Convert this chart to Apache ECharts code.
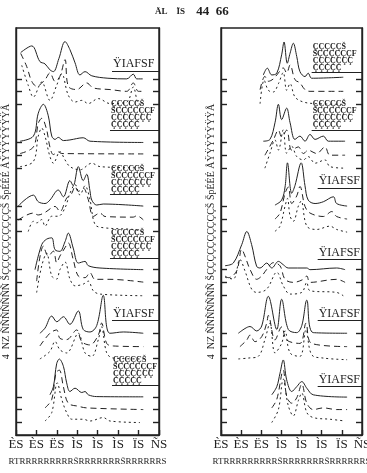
<!DOCTYPE html>
<html>
<head>
<meta charset="utf-8">
<script src="https://cdn.jsdelivr.net/npm/echarts@6/dist/echarts.min.js"></script>
<style>
  html, body { margin: 0; padding: 0; background: #fff; }
  #chart { width: 367px; height: 473px; }
</style>
</head>
<body>
<div id="chart"></div>
<script>
// tick labels along x, and y tick positions (3 per panel group)
var xTickLabels = ["ÈS", "ÈS", "ËS", "ÌS", "ÌS", "ÌS", "ÏS", "ÑS"];
var yTicks = [1, 2, 3, 6, 7, 8, 11, 12, 13, 16, 17, 18, 21, 22, 23, 26, 27, 28];
// baselines of solid / dashed / dotted trace, group 1 at top
var baselines = [[28, 27, 26], [23, 22, 21], [18, 17, 16], [13, 12, 11], [8, 7, 6], [3, 2, 1]];

// left panel traces: [x, height above own baseline]
var leftSolid = [
  [[0.23,2.07],[0.77,2.59],[1.17,1.36],[1.42,1.18],[1.66,0.71],[1.83,0.57],[2.1,1.6],[2.40,2.93],[2.64,2.3],[2.89,1.26],[3.13,0.31],[3.38,0.57],[3.71,0.24],[4.5,0.05],[5.42,0],[5.74,0.37],[5.91,0],[6.20,0]],
  [[0.20,0.1],[0.85,0.5],[1.09,2.3],[1.34,3.0],[1.58,2.1],[1.75,0.5],[1.91,0.24],[2.07,0.4],[2.32,0.15],[2.64,0.2],[3.29,0.37],[3.62,0.1],[6.23,0]],
  [[0.11,0],[0.85,0.86],[1.09,0.34],[1.42,0.2],[1.66,0.47],[2.07,1.26],[2.32,0.73],[2.64,2.0],[2.80,1.6],[3.05,3.1],[3.29,2.0],[3.46,2.5],[3.62,1.2],[3.71,0.47],[3.95,0.08],[4.27,0.16],[6.23,0]],
  [[0.93,0],[1.26,1.97],[1.50,2.4],[1.75,2.5],[1.91,1.57],[2.15,1.44],[2.40,2.2],[2.56,2.87],[2.80,1.7],[3.05,0.52],[3.38,0.65],[3.54,0.31],[4.11,0.13],[6.23,0]],
  [[1.17,0],[1.42,0.4],[1.75,1.35],[2.0,0.9],[2.32,1.3],[2.64,0.7],[3.05,1.75],[3.29,0.3],[3.62,0.1],[3.95,0.6],[4.27,2.98],[4.44,0.5],[4.60,0],[5.25,0.1],[6.23,0]],
  [[1.66,0.16],[1.83,0.8],[1.99,2.6],[2.12,2.97],[2.32,2.4],[2.48,1.1],[2.64,0.42],[2.89,0.68],[3.22,0.34],[3.38,0.42],[3.54,0.16],[3.95,0.02],[6.23,0]]
];
var leftDashed = [
  [[0.23,3.0],[0.52,1.99],[0.77,0.81],[1.01,0.42],[1.42,0.94],[1.66,1.47],[1.91,0.81],[2.15,1.2],[2.40,2.52],[2.56,0.42],[2.97,0.16],[3.46,0.68],[3.78,0.29],[4.60,0.16],[5.42,0.02],[5.74,0.68],[5.99,0.02],[6.20,0.02]],
  [[0.20,0.13],[0.85,0.65],[1.09,2.5],[1.26,2.9],[1.50,2.0],[1.66,0.65],[1.83,0.05],[2.07,0.26],[2.24,0.13],[6.23,0.1]],
  [[0.11,-0.1],[0.85,0.45],[1.09,0.3],[1.42,0.5],[1.91,0.97],[2.15,0.57],[2.48,1.63],[2.73,2.0],[2.89,2.54],[3.05,2.15],[3.29,2.41],[3.54,1.5],[3.78,0.18],[4.11,0.45],[4.36,0.18],[5.74,0.13],[5.91,0.24],[6.23,-0.08]],
  [[1.01,0.1],[1.34,2.85],[1.58,2.07],[1.83,2.46],[1.99,1.55],[2.15,2.07],[2.40,2.73],[2.56,3.1],[2.80,1.8],[3.05,0.5],[3.38,0.37],[3.62,0.76],[3.87,0.24],[4.60,0.24],[6.23,0.02]],
  [[1.17,0],[1.66,1.0],[1.99,1.26],[2.15,0.6],[2.48,0.5],[2.97,1.26],[3.22,0.34],[3.62,0.08],[4.03,0.86],[4.19,1.8],[4.44,0.2],[4.76,0],[6.23,-0.05]],
  [[1.42,0.13],[1.75,0.8],[1.96,2.9],[2.12,3.1],[2.32,1.8],[2.56,0.5],[3.05,0.26],[3.46,0.13],[6.23,0]]
];
var leftDotted = [
  [[0.28,3.07],[0.60,1.49],[0.85,0.57],[1.26,1.75],[1.66,0.31],[1.99,1.49],[2.24,2.41],[2.56,0.71],[2.89,0.18],[3.22,0.31],[3.54,0.06],[4.03,0.45],[4.60,0.06],[5.42,0.18],[5.74,1.36],[5.99,0.06],[6.20,0]],
  [[0.20,0.1],[0.85,0.5],[1.09,2.5],[1.26,3.13],[1.42,2.5],[1.66,0.9],[1.83,0.37],[2.15,1.28],[2.40,0.63],[2.64,0.1],[3.13,-0.15],[3.71,0.37],[4.11,0.1],[6.23,0]],
  [[0.60,0],[0.85,0.8],[1.01,0.68],[1.26,0.94],[1.42,0.42],[1.75,1.2],[2.07,1.2],[2.40,1.86],[2.64,3.0],[2.89,3.7],[3.13,2.87],[3.38,3.6],[3.62,2.5],[3.87,0.55],[4.27,0.3],[5.74,0.16],[6.23,0]],
  [[1.01,0.2],[1.26,2.3],[1.50,3.3],[1.75,1.5],[1.99,1.26],[2.15,2.0],[2.40,2.6],[2.64,1.26],[2.89,0.73],[3.29,0.86],[3.54,1.1],[3.78,0.34],[4.11,0.08],[6.23,-0.05]],
  [[1.17,-0.02],[1.66,0.57],[1.91,1.36],[2.15,0.7],[2.48,0.45],[3.05,2.0],[3.38,0.45],[3.71,0.18],[4.03,1.5],[4.19,2.5],[4.44,0.45],[4.76,0.05],[6.23,-0.02]],
  [[1.42,0.1],[1.75,0.76],[2.02,3.1],[2.24,1.8],[2.48,0.76],[2.73,0.24],[3.29,0.24],[3.62,0.1],[4.27,0.37],[4.60,0.1],[6.07,-0.02]]
];

// right panel traces
var rightSolid = [
  [[2.10,0.3],[2.30,0.84],[2.52,0.31],[2.77,0.45],[3.01,1.89],[3.13,2.9],[3.29,1.23],[3.43,2.02],[3.59,2.8],[3.76,1.76],[3.92,0.57],[4.17,0.18],[4.33,0.45],[4.50,0.05],[6.07,0.13]],
  [[2.10,0.1],[2.43,0.24],[2.68,1.55],[2.85,3.0],[3.01,1.8],[3.26,2.7],[3.43,1.55],[3.67,0.24],[3.92,0.5],[4.17,0.1],[4.42,0.63],[4.67,0.24],[5.08,0.5],[5.33,0.1],[6.16,0.1]],
  [[2.68,0.08],[3.01,0.47],[3.18,1.5],[3.30,3.4],[3.51,1.0],[3.67,1.6],[3.98,3.4],[4.17,1.6],[4.33,0.47],[4.67,0.2],[5.08,0.34],[5.58,0.73],[5.74,0.2],[6.26,0]],
  [[0.20,0.31],[0.61,0.52],[1.03,1.97],[1.28,3.0],[1.52,1.97],[1.77,0.26],[1.94,0.13],[2.27,0.52],[2.52,0.13],[2.85,0.65],[3.09,0.39],[3.34,0.13],[4.26,0.13],[4.42,0],[5.74,0.13],[6.16,0]],
  [[0.86,0],[1.19,0.37],[1.44,0.53],[1.77,0.18],[2.02,0.57],[2.35,2.9],[2.77,0.3],[3.01,2.67],[3.34,0.3],[3.76,0.05],[4.01,0.6],[4.26,2.6],[4.58,0.05],[6.26,0]],
  [[2.52,0.16],[2.77,0.8],[2.93,1.86],[3.09,2.9],[3.26,1.34],[3.51,0.42],[3.76,0.8],[4.01,1.2],[4.26,0.68],[4.58,0.16],[6.26,-0.02]]
];
var rightDashed = [
  [[1.94,0.15],[2.18,1.2],[2.35,0.81],[2.60,1.0],[2.85,1.47],[3.09,1.86],[3.26,1.47],[3.43,2.1],[3.67,0.94],[3.92,0.68],[4.17,0.15],[4.42,0.02],[6.07,0.02]],
  [[2.18,0],[2.60,1.2],[2.85,1.97],[3.01,1.44],[3.26,1.97],[3.51,0.39],[3.84,0.65],[4.09,0.13],[4.33,0.39],[4.75,0.13],[5.16,0.65],[5.41,0],[6.16,0]],
  [[2.68,-0.02],[2.93,0.45],[3.18,2.0],[3.34,2.5],[3.51,1.2],[3.76,1.8],[3.92,2.54],[4.17,0.97],[4.42,0.45],[5.08,0.18],[5.50,0.57],[5.74,0.18],[6.26,-0.02]],
  [[0.20,0.5],[0.36,0.37],[0.78,0.9],[1.03,2.6],[1.19,2.07],[1.44,1.02],[1.77,0.24],[2.02,0.5],[2.27,1.02],[2.60,1.55],[2.93,1.3],[3.18,0.24],[3.59,0],[4.09,0.24],[4.26,0.5],[4.42,0],[5.74,0.24],[6.16,0]],
  [[0.94,-0.05],[1.28,0.47],[1.44,0.86],[1.69,0.34],[2.02,0.73],[2.27,1.8],[2.35,2.4],[2.68,0.47],[3.01,1.5],[3.26,0.47],[3.92,0.2],[4.22,1.8],[4.50,0.2],[6.26,-0.05]],
  [[2.52,0.13],[2.77,0.8],[3.09,3.1],[3.26,1.05],[3.51,0.5],[3.76,0.92],[4.01,2.0],[4.26,0.5],[4.58,0],[5.08,0.13],[5.74,0],[6.26,0]]
];
var rightDotted = [
  [[1.94,0.05],[2.14,1.9],[2.35,1.1],[2.60,0.97],[2.85,1.62],[3.09,2.5],[3.26,1.1],[3.43,1.63],[3.67,0.58],[4.09,0.18],[4.75,0.05],[6.07,0]],
  [[2.18,-0.02],[2.43,1.15],[2.68,2.2],[2.85,1.4],[3.09,3.0],[3.26,1.15],[3.51,1.7],[3.76,0.89],[4.09,0.63],[4.33,0.89],[4.67,0.37],[5.16,0.63],[5.41,0.1],[6.16,-0.02]],
  [[2.68,0.02],[2.93,0.42],[3.18,2.0],[3.30,2.6],[3.43,1.2],[3.59,0.8],[3.84,2.0],[3.98,2.4],[4.26,0.42],[4.75,0.16],[5.41,0.42],[5.74,0.16],[6.26,-0.05]],
  [[0.20,1.4],[0.61,1.26],[0.94,2.8],[1.19,1.9],[1.52,0.47],[1.77,0.21],[2.27,0.47],[2.77,1.8],[3.09,0.73],[3.43,0.08],[4.01,0.21],[4.26,1.0],[4.42,0.34],[5.74,0.21],[6.07,-0.05]],
  [[0.86,-0.02],[1.36,0.05],[1.85,0.18],[2.18,1.5],[2.43,2.8],[2.68,0.45],[3.01,1.2],[3.18,2.2],[3.43,0.45],[3.92,0.18],[4.22,2.3],[4.50,0.31],[5.08,0.05],[6.26,-0.08]],
  [[2.52,-0.02],[2.85,1.0],[3.09,3.4],[3.34,1.3],[3.59,0.5],[3.84,1.7],[4.01,2.3],[4.26,0.76],[4.58,0.37],[5.41,0.24],[6.16,0.1]]
];

// group labels and where their underline sits
var shortLabel = "ŸIAFSF";
var longLabel = "ÇÇÇÇÇŠ\nŠÇÇÇÇÇÇF\nÇÇÇÇÇÇÇ\nÇÇÇÇÇ";
var leftLabels = [shortLabel, longLabel, longLabel, longLabel, shortLabel, longLabel];
var rightLabels = [longLabel, longLabel, shortLabel, shortLabel, shortLabel, shortLabel];
var leftLabelX = [4.7, 4.6, 4.6, 4.6, 4.7, 4.7];
var rightLabelX = [4.5, 4.5, 4.8, 4.8, 4.8, 4.8];
var leftLabelLevel = [0.6, 1.0, 0.9, 0.9, 1.0, 0.9];
var rightLabelLevel = [0.5, 1.0, 1.4, 0.8, 1.0, 0.8];

var titleParts = ["ÄL", "ÏS", "44", "66"];
var yName = "4  ΝΖ ÑÑÑÑÑÑÑ ŠÇÇÇÇÇÇÇÇÇÇŠ ŠpÉÉÉ ÅŸŸŸŸŸŸŸÅ";
var xName = "RTRRRRRRRRRŠRRRRRRRŠRRRRRRS";

var ink = "#222";
var serif = "Liberation Serif";
var nb = "\u00a0";

function traceSeries(traces, style, axisIdx, slot) {
  return traces.map(function (pts, g) {
    var base = baselines[g][slot];
    return {
      type: "line",
      xAxisIndex: axisIdx,
      yAxisIndex: axisIdx * 2,
      data: pts.map(function (p) { return [p[0], p[1] + base]; }),
      smooth: 0.35,
      showSymbol: false,
      silent: true,
      lineStyle: { color: ink, width: 1, type: style },
    };
  });
}

function labelSeries(texts, xs, levels, axisIdx) {
  return texts.map(function (t, g) {
    var y = baselines[g][0] + levels[g];
    var multi = t.indexOf("\n") >= 0;
    return {
      type: "line",
      xAxisIndex: axisIdx,
      yAxisIndex: axisIdx * 2,
      data: [],
      markLine: {
        silent: true,
        symbol: "none",
        animation: false,
        lineStyle: { color: ink, width: 1, type: "solid" },
        label: {
          position: "insideStartTop",
          distance: 1,
          formatter: t,
          color: ink,
          fontFamily: serif,
          fontWeight: multi ? "bold" : "normal",
          fontSize: multi ? 8 : 12,
          lineHeight: multi ? 7 : 12,
        },
        data: [[{ coord: [xs[g], y] }, { coord: [7, y] }]],
      },
    };
  });
}

function xAxisFor(i) {
  return {
    gridIndex: i,
    type: "value",
    min: 0,
    max: 7,
    interval: 1,
    axisLine: { lineStyle: { color: ink, width: 1.4 } },
    axisTick: { inside: true, length: 5, lineStyle: { color: ink, width: 1.4 } },
    axisLabel: {
      color: ink,
      fontFamily: serif,
      fontSize: 13,
      margin: 3,
      formatter: function (v) { return xTickLabels[v]; },
    },
    splitLine: { show: false },
    name: xName,
    nameLocation: "middle",
    nameGap: 22,
    nameTextStyle: { color: ink, fontFamily: serif, fontSize: 9 },
  };
}

function yAxisFor(i, pos) {
  var ax = {
    gridIndex: i,
    type: "value",
    position: pos,
    min: 0,
    max: 32,
    axisLine: { show: true, lineStyle: { color: ink, width: 1.4 } },
    axisTick: { show: true, inside: true, length: 6, customValues: yTicks, lineStyle: { color: ink, width: 1.4 } },
    axisLabel: { show: false },
    splitLine: { show: false },
  };
  if (pos === "left") {
    ax.name = yName;
    ax.nameLocation = "middle";
    ax.nameGap = 5;
    ax.nameTextStyle = { color: ink, fontFamily: serif, fontSize: 10 };
  }
  return ax;
}

var chart = echarts.init(document.getElementById("chart"));
var option = {
  animation: false,
  backgroundColor: "#fff",
  title: {
    text: "{s|" + titleParts[0] + nb + nb + nb + nb + "}{s|" + titleParts[1] + nb + nb + nb + nb + nb + "}{b|" + titleParts[2] + nb + nb + titleParts[3] + "}",
    left: 150,
    top: 0,
    textStyle: {
      rich: {
        s: { fontFamily: serif, fontSize: 9, color: ink },
        b: { fontFamily: serif, fontSize: 13, fontWeight: "bold", color: ink },
      },
    },
  },
  grid: [
    { left: 16, right: 208, top: 28, bottom: 38, show: true, borderColor: ink, borderWidth: 1.4, outerBoundsMode: "none" },
    { left: 221, right: 5, top: 28, bottom: 38, show: true, borderColor: ink, borderWidth: 1.4, outerBoundsMode: "none" },
  ],
  xAxis: [xAxisFor(0), xAxisFor(1)],
  yAxis: [yAxisFor(0, "left"), yAxisFor(0, "right"), yAxisFor(1, "left"), yAxisFor(1, "right")],
  series: [].concat(
    traceSeries(leftSolid, "solid", 0, 0),
    traceSeries(leftDashed, [6, 4], 0, 1),
    traceSeries(leftDotted, [2, 3], 0, 2),
    traceSeries(rightSolid, "solid", 1, 0),
    traceSeries(rightDashed, [6, 4], 1, 1),
    traceSeries(rightDotted, [2, 3], 1, 2),
    labelSeries(leftLabels, leftLabelX, leftLabelLevel, 0),
    labelSeries(rightLabels, rightLabelX, rightLabelLevel, 1)
  ),
};
chart.setOption(option);
</script>
</body>
</html>
